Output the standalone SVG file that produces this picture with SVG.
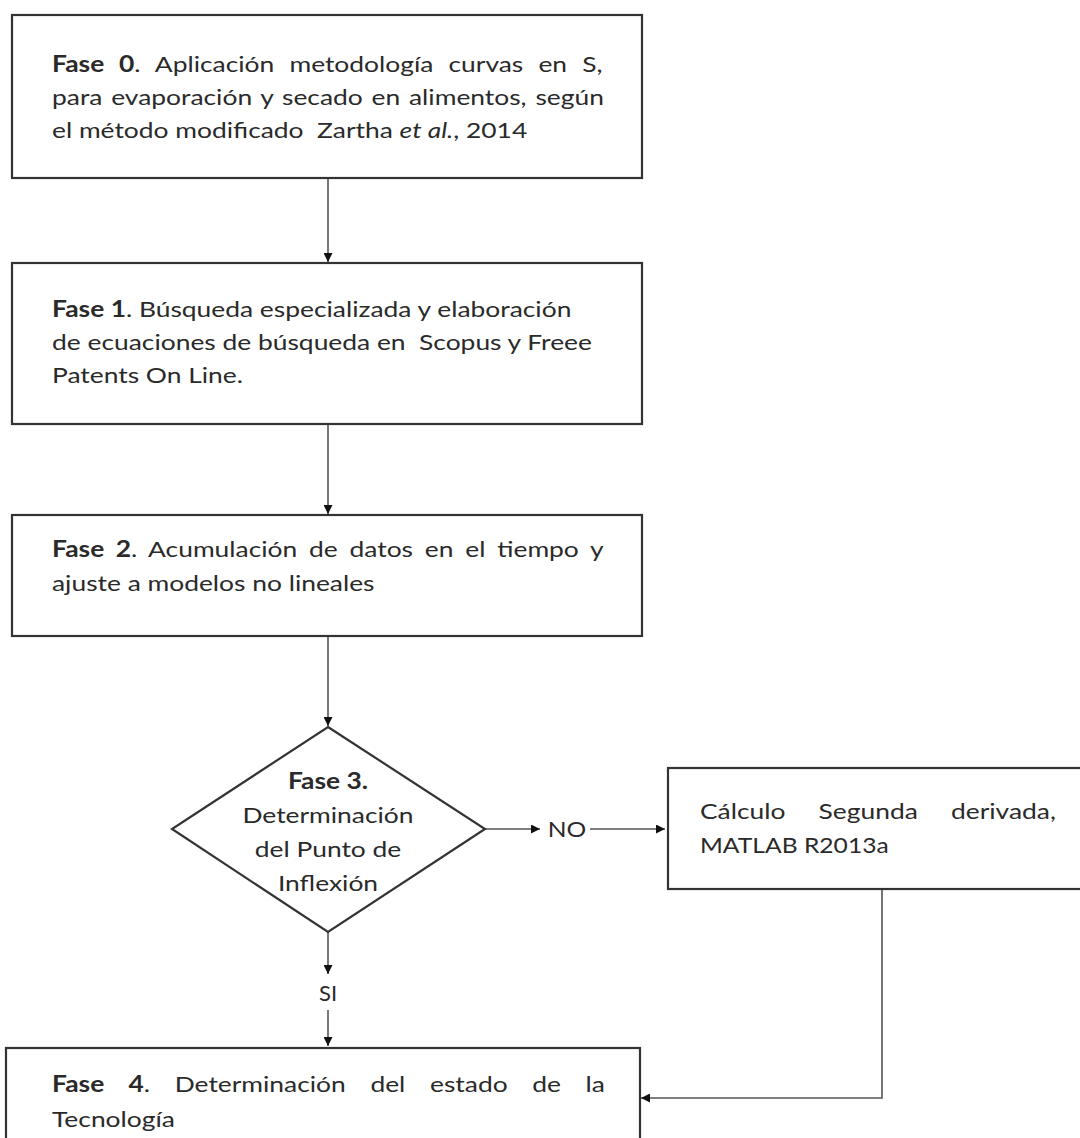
<svg xmlns="http://www.w3.org/2000/svg" width="1080" height="1138" viewBox="0 0 1080 1138">
<defs>
<marker id="arr" viewBox="0 0 10 10" refX="10" refY="5" markerWidth="10" markerHeight="9" markerUnits="userSpaceOnUse" orient="auto">
<path d="M0,0 L10,5 L0,10 z" fill="#111"/>
</marker>
</defs>
<style>
.box{fill:#fff;stroke:#333;stroke-width:2.2}
.t{font-family:Lato,"Open Sans","Liberation Sans",sans-serif;font-size:22px;fill:#2a2a2a}
.b{font-weight:bold}
.c{text-anchor:middle}
.ln{fill:none;stroke:#555;stroke-width:1.6}
</style>
<rect width="1080" height="1138" fill="#fff"/>
<g id="connectors">
<line class="ln" x1="328" y1="178" x2="328" y2="262" marker-end="url(#arr)"/>
<line class="ln" x1="328" y1="424" x2="328" y2="514" marker-end="url(#arr)"/>
<line class="ln" x1="328" y1="636" x2="328" y2="726" marker-end="url(#arr)"/>
<line class="ln" x1="485" y1="829" x2="540" y2="829" marker-end="url(#arr)"/>
<line class="ln" x1="590" y1="829" x2="665" y2="829" marker-end="url(#arr)"/>
<line class="ln" x1="328" y1="932" x2="328" y2="974" marker-end="url(#arr)"/>
<line class="ln" x1="328" y1="1010" x2="328" y2="1046" marker-end="url(#arr)"/>
<polyline class="ln" points="882,889 882,1098 641,1098" marker-end="url(#arr)"/>
<text class="t c" transform="translate(567,837) scale(1.12,1)">NO</text>
<text class="t c" transform="translate(328,1001) scale(1,1)">SI</text>
</g>
<g id="fase0">
<rect class="box" x="12" y="15" width="630" height="163"/>
<text class="t" transform="translate(52,72) scale(1.2,1)" style="word-spacing:7px"><tspan class="b">Fase 0</tspan>. Aplicación metodología curvas en S,</text>
<text class="t" transform="translate(52,105) scale(1.2,1)" style="word-spacing:1.7px">para evaporación y secado en alimentos, según</text>
<text class="t" transform="translate(52,138) scale(1.2,1)" xml:space="preserve">el método modificado  Zartha <tspan font-style="italic">et al.</tspan>, 2014</text>
</g>
<g id="fase1">
<rect class="box" x="12" y="263" width="630" height="161"/>
<text class="t" transform="translate(52,317) scale(1.2,1)"><tspan class="b">Fase 1</tspan>. Búsqueda especializada y elaboración</text>
<text class="t" transform="translate(52,350) scale(1.2,1)" xml:space="preserve">de ecuaciones de búsqueda en  Scopus y Freee</text>
<text class="t" transform="translate(52,383) scale(1.2,1)">Patents On Line.</text>
</g>
<g id="fase2">
<rect class="box" x="12" y="515" width="630" height="121"/>
<text class="t" transform="translate(52,557) scale(1.2,1)" style="word-spacing:4.2px"><tspan class="b">Fase 2</tspan>. Acumulación de datos en el tiempo y</text>
<text class="t" transform="translate(52,591) scale(1.2,1)">ajuste a modelos no lineales</text>
</g>
<g id="fase3">
<polygon class="box" points="328,727 485,829 328,932 172,829"/>
<text class="t c b" transform="translate(328,789) scale(1.2,1)">Fase 3.</text>
<text class="t c" transform="translate(328,823) scale(1.2,1)">Determinación</text>
<text class="t c" transform="translate(328,857) scale(1.2,1)">del Punto de</text>
<text class="t c" transform="translate(328,891) scale(1.2,1)">Inflexión</text>
</g>
<g id="calculo">
<rect class="box" x="668" y="768" width="430" height="121"/>
<text class="t" transform="translate(700,819) scale(1.2,1)" style="word-spacing:22px">Cálculo Segunda derivada,</text>
<text class="t" transform="translate(700,853) scale(1.12,1)">MATLAB R2013a</text>
</g>
<g id="fase4">
<rect class="box" x="6" y="1048" width="634" height="110"/>
<text class="t" transform="translate(52,1092) scale(1.2,1)" style="word-spacing:14.9px"><tspan class="b">Fase 4</tspan>. Determinación del estado de la</text>
<text class="t" transform="translate(52,1127) scale(1.2,1)">Tecnología</text>
</g>
</svg>
